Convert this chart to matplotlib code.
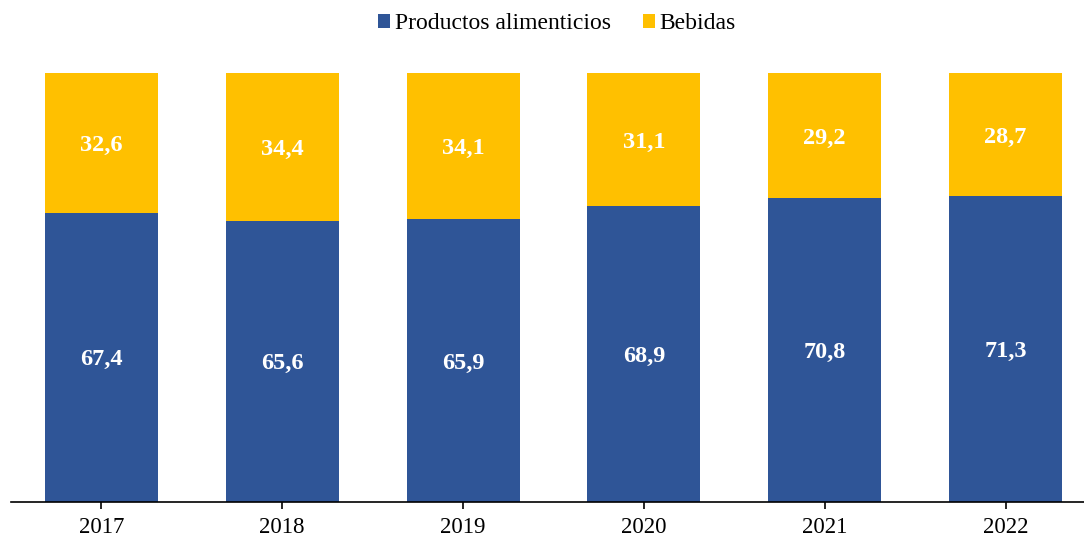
import matplotlib.pyplot as plt
import numpy as np

years = ['2017', '2018', '2019', '2020', '2021', '2022']
alimentos = [67.4, 65.6, 65.9, 68.9, 70.8, 71.3]
bebidas = [32.6, 34.4, 34.1, 31.1, 29.2, 28.7]

plt.rcParams['font.family'] = ['Liberation Serif', 'DejaVu Serif']

fig = plt.figure(figsize=(10.84, 5.39), dpi=100)
ax = fig.add_axes([11 / 1084, 37 / 539, 1073 / 1084, 429 / 539])

x = np.arange(len(years))
w = 0.625
b1 = ax.bar(x, alimentos, w, color='#2F5597', label='Productos alimenticios')
b2 = ax.bar(x, bebidas, w, bottom=alimentos, color='#FFC000', label='Bebidas')

for i in range(len(years)):
    ax.text(x[i], alimentos[i] / 2, f'{alimentos[i]:.1f}'.replace('.', ','),
            ha='center', va='center_baseline', color='white', fontsize=17.5, fontweight='bold')
    ax.text(x[i], alimentos[i] + bebidas[i] / 2, f'{bebidas[i]:.1f}'.replace('.', ','),
            ha='center', va='center_baseline', color='white', fontsize=17.5, fontweight='bold')

ax.set_xlim(-0.5, 5.434)
ax.set_ylim(0, 100)
ax.set_xticks(x)
ax.set_xticklabels(years, fontsize=16.5)
ax.set_yticks([])
for s in ['top', 'right', 'left']:
    ax.spines[s].set_visible(False)
ax.spines['bottom'].set_linewidth(1.2)
ax.tick_params(axis='x', length=5, width=1.2, pad=6)

fig.legend(handles=[b1, b2], loc='upper center', bbox_to_anchor=(557 / 1084, 1.015),
           ncol=2, frameon=False, fontsize=17, handlelength=0.5, handleheight=0.5,
           handletextpad=0.2, columnspacing=1.35)

fig.savefig('out.png', dpi=100)
